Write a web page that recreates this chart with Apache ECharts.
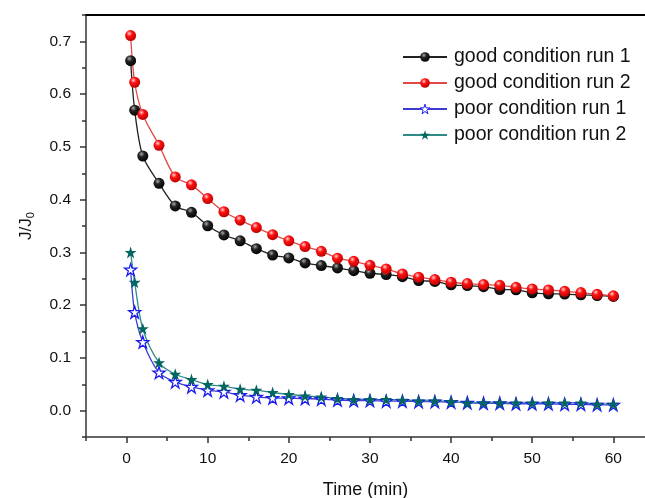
<!DOCTYPE html>
<html>
<head>
<meta charset="utf-8">
<script src="https://cdn.jsdelivr.net/npm/echarts@6/dist/echarts.min.js"></script>
<style>html,body{margin:0;padding:0;background:#fff;}#c{width:645px;height:498px;}</style>
</head>
<body>
<div id="c"></div>
<script>
const times = [0.5,1,2,4,6,8,10,12,14,16,18,20,22,24,26,28,30,32,34,36,38,40,42,44,46,48,50,52,54,56,58,60];
const goodRun1 = [0.6635,0.5696,0.4827,0.431,0.388,0.376,0.3505,0.333,0.322,0.307,0.295,0.2895,0.280,0.275,0.2705,0.2654,0.2604,0.2579,0.254,0.2466,0.245,0.2384,0.237,0.235,0.2296,0.229,0.2233,0.2214,0.221,0.2195,0.2182,0.2165];
const goodRun2 = [0.711,0.6225,0.5615,0.503,0.443,0.428,0.402,0.377,0.361,0.347,0.3335,0.322,0.311,0.302,0.289,0.283,0.2755,0.2686,0.2592,0.2529,0.2484,0.2434,0.2408,0.239,0.2376,0.2338,0.2307,0.2287,0.2261,0.2237,0.2205,0.2176];
const poorRun1 = [0.2673,0.1867,0.130,0.0722,0.0544,0.045,0.0387,0.0355,0.0293,0.026,0.024,0.0235,0.023,0.0217,0.020,0.019,0.019,0.018,0.018,0.017,0.017,0.016,0.015,0.014,0.014,0.013,0.013,0.013,0.012,0.012,0.011,0.011];
const poorRun2 = [0.300,0.2433,0.1553,0.091,0.069,0.059,0.0495,0.0463,0.0406,0.0387,0.0344,0.0306,0.028,0.026,0.023,0.021,0.021,0.021,0.0198,0.0186,0.0186,0.0173,0.0148,0.0148,0.0148,0.0148,0.0148,0.0148,0.0148,0.0148,0.0123,0.0123];
const seriesNames = ['good condition run 1','good condition run 2','poor condition run 1','poor condition run 2'];
const xMajorTicks = [0,10,20,30,40,50,60];
const xMinorTicks = [-5,5,15,25,35,45,55];
const yMajorTicks = [0,0.1,0.2,0.3,0.4,0.5,0.6,0.7];
const yMinorTicks = [-0.05,0.05,0.15,0.25,0.35,0.45,0.55,0.65,0.75];

const FONT = 'Arial, "Liberation Sans", sans-serif';
const STAR = 'path://M50,0 L61.2,34.5 L97.6,34.5 L68.2,55.9 L79.4,90.5 L50,69.1 L20.6,90.5 L31.8,55.9 L2.4,34.5 L38.8,34.5 Z';
function ball(c0, c1, c2) {
  return {type:'radial', x:0.38, y:0.32, r:0.75, colorStops:[
    {offset:0, color:c0},{offset:0.35, color:c1},{offset:1, color:c2}]};
}
function pairs(vals){ return times.map((t,i)=>[t, vals[i]]); }

const X_MIN = -5, X_MAX = 63.9;
const chart = echarts.init(document.getElementById('c'), null, {renderer:'canvas'});
const axisColor = '#333';
chart.setOption({
  animation:false,
  backgroundColor:'#fff',
  grid:{left:86, top:15, right:0, bottom:61, show:false, outerBoundsMode:'none', containLabel:false},
  legend:{
    left:397, top:42, orient:'vertical', itemWidth:44, itemHeight:12, itemGap:6,
    textStyle:{fontFamily:FONT, fontSize:19.5, color:'#111', lineHeight:20, padding:[0,0,0,2]},
    data:[
      {name:seriesNames[0]},
      {name:seriesNames[1]},
      {name:seriesNames[2], itemStyle:{borderWidth:1}},
      {name:seriesNames[3]}
    ]
  },
  xAxis:[{
    type:'value', min:X_MIN, max:X_MAX, position:'bottom',
    name:'Time (min)', nameLocation:'middle', nameGap:44,
    nameTextStyle:{fontFamily:FONT, fontSize:18, color:'#111'},
    axisLine:{show:true, onZero:false, lineStyle:{color:axisColor, width:1.5}},
    axisTick:{show:true, customValues:xMajorTicks, length:6, lineStyle:{color:axisColor, width:1.5}},
    axisLabel:{customValues:xMajorTicks, fontFamily:FONT, fontSize:15.5, color:'#111', margin:14},
    splitLine:{show:false}
  },{
    type:'value', min:X_MIN, max:X_MAX, position:'bottom', gridIndex:0,
    axisLine:{show:false, onZero:false},
    axisTick:{show:true, customValues:xMinorTicks, length:4, lineStyle:{color:axisColor, width:1.5}},
    axisLabel:{show:false},
    splitLine:{show:false}
  },{
    type:'value', min:X_MIN, max:X_MAX, position:'top', gridIndex:0,
    axisLine:{show:true, onZero:false, lineStyle:{color:'#000', width:2}},
    axisTick:{show:false},
    axisLabel:{show:false},
    splitLine:{show:false}
  }],
  yAxis:[{
    type:'value', min:-0.05, max:0.75, position:'left',
    name:'J/J{sub|0}', nameLocation:'middle', nameGap:50, nameRotate:90,
    nameTextStyle:{fontFamily:FONT, fontSize:17, color:'#111',
      rich:{sub:{fontFamily:FONT, fontSize:11, color:'#111', verticalAlign:'bottom', padding:[8,0,0,0]}}},
    axisLine:{show:true, onZero:false, lineStyle:{color:axisColor, width:1.5}},
    axisTick:{show:true, customValues:yMajorTicks, length:6, lineStyle:{color:axisColor, width:1.5}},
    axisLabel:{customValues:yMajorTicks, fontFamily:FONT, fontSize:15.5, color:'#111', margin:15,
      formatter:v=>v.toFixed(1)},
    splitLine:{show:false}
  },{
    type:'value', min:-0.05, max:0.75, position:'left', gridIndex:0,
    axisLine:{show:false, onZero:false},
    axisTick:{show:true, customValues:yMinorTicks, length:4, lineStyle:{color:axisColor, width:1.5}},
    axisLabel:{show:false},
    splitLine:{show:false}
  }],
  series:[
    {name:seriesNames[0], type:'line', smooth:0.3, data:pairs(goodRun1),
      symbol:'circle', symbolSize:11,
      lineStyle:{color:'#222', width:1.3},
      itemStyle:{color:ball('#aaaaaa','#222222','#000000'), borderWidth:0}},
    {name:seriesNames[1], type:'line', smooth:0.3, data:pairs(goodRun2),
      symbol:'circle', symbolSize:11,
      lineStyle:{color:'#e04848', width:1.3},
      itemStyle:{color:ball('#ffd0d0','#ff1010','#b00000'), borderWidth:0}},
    {name:seriesNames[2], type:'line', smooth:0.3, data:pairs(poorRun1),
      symbol:STAR, symbolSize:12,
      lineStyle:{color:'#3c3cd0', width:1.3},
      itemStyle:{color:'#ffffff', borderColor:'#1a1aee', borderWidth:1.3}},
    {name:seriesNames[3], type:'line', smooth:0.3, data:pairs(poorRun2),
      symbol:STAR, symbolSize:12,
      lineStyle:{color:'#2e8c88', width:1.3},
      itemStyle:{color:'#00665f', borderWidth:0}}
  ]
});
</script>
</body>
</html>
